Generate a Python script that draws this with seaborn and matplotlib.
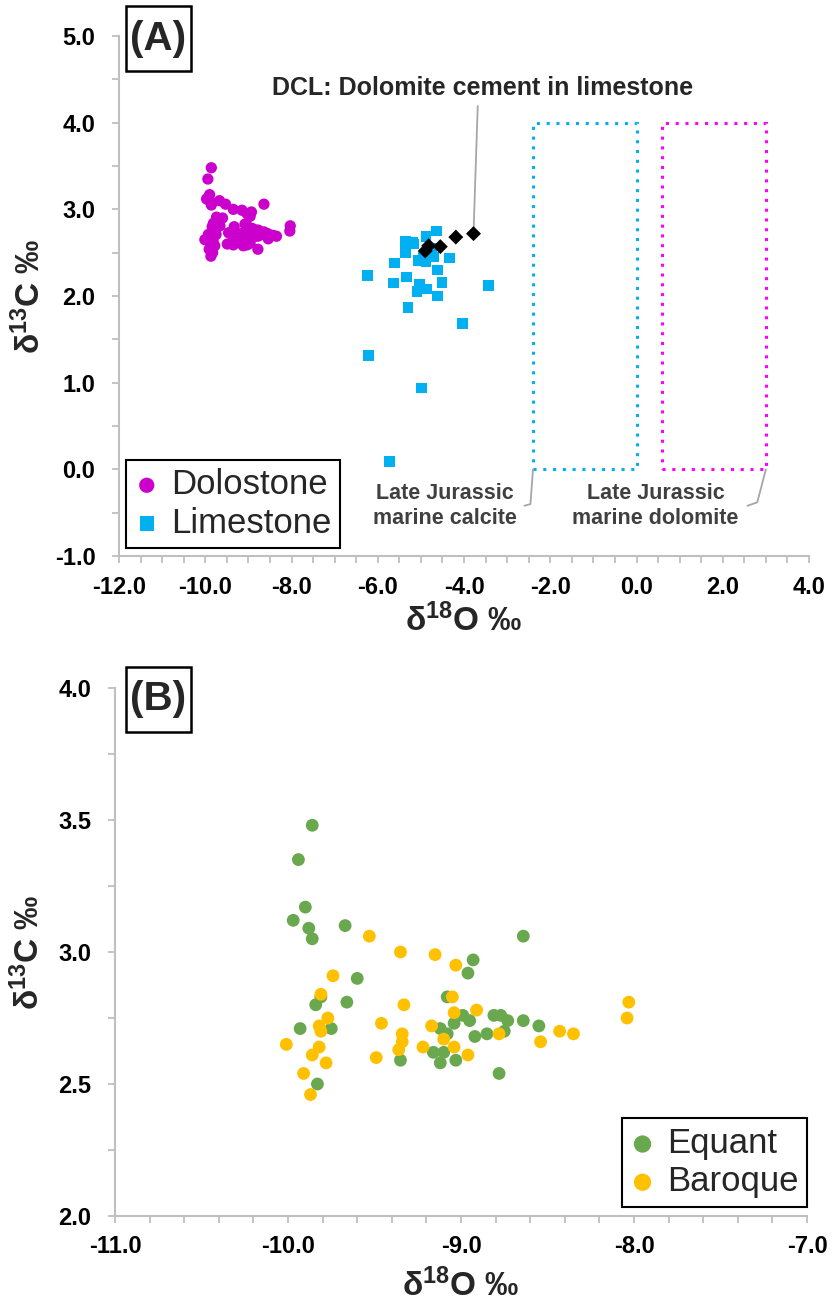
import matplotlib
matplotlib.use("Agg")
import matplotlib.pyplot as plt
from matplotlib.patches import Rectangle
from matplotlib.ticker import MultipleLocator, FormatStrFormatter
import pandas as pd
import seaborn as sns

# ---- Dolomite cement types (delta18O, delta13C, permil VPDB) ----
equant_d18o = [-9.86, -9.94, -9.90, -9.97, -9.88, -9.86, -9.67, -8.93, -8.96, -9.60,
               -9.84, -9.81, -9.66, -9.08, -9.93, -9.75, -8.99, -8.95, -9.04, -9.12,
               -9.08, -8.92, -8.85, -8.81, -9.16, -9.10, -9.12, -9.03, -9.35, -9.83,
               -8.78, -8.64, -8.77, -8.73, -8.64, -8.55, -8.75]
equant_d13c = [3.48, 3.35, 3.17, 3.12, 3.09, 3.05, 3.10, 2.97, 2.92, 2.90,
               2.80, 2.83, 2.81, 2.83, 2.71, 2.71, 2.76, 2.74, 2.73, 2.71,
               2.69, 2.68, 2.69, 2.76, 2.62, 2.62, 2.58, 2.59, 2.59, 2.50,
               2.54, 3.06, 2.76, 2.74, 2.74, 2.72, 2.70]

baroque_d18o = [-9.53, -9.35, -9.15, -9.03, -9.74, -9.81, -9.33, -9.05, -9.04, -8.91,
                -9.77, -9.82, -9.81, -9.46, -9.17, -10.01, -9.82, -9.86, -9.78, -9.34,
                -9.34, -9.36, -9.22, -9.10, -9.04, -8.96, -9.49, -9.91, -9.87, -8.78,
                -8.03, -8.04, -8.43, -8.35, -8.54]
baroque_d13c = [3.06, 3.00, 2.99, 2.95, 2.91, 2.84, 2.80, 2.83, 2.77, 2.78,
                2.75, 2.72, 2.70, 2.73, 2.72, 2.65, 2.64, 2.61, 2.58, 2.69,
                2.66, 2.63, 2.64, 2.67, 2.64, 2.61, 2.60, 2.54, 2.46, 2.69,
                2.81, 2.75, 2.70, 2.69, 2.66]

# ---- Limestone host and dolomite cement in limestone (DCL) ----
lime_d18o = [-4.64, -5.35, -5.20, -4.88, -5.36, -5.05, -4.88, -4.71, -4.34, -5.62,
             -4.61, -6.23, -5.33, -5.64, -5.04, -4.51, -4.86, -5.09, -4.61, -3.43,
             -5.30, -4.04, -6.21, -4.98, -5.73, -5.18, -4.95, -4.75]
lime_d13c = [2.75, 2.63, 2.62, 2.69, 2.50, 2.41, 2.40, 2.45, 2.44, 2.38,
             2.30, 2.24, 2.22, 2.15, 2.14, 2.16, 2.08, 2.05, 2.00, 2.12,
             1.87, 1.68, 1.31, 0.94, 0.09, 2.60, 2.45, 2.55]

dcl_d18o = [-4.90, -4.82, -4.55, -4.19, -3.78]
dcl_d13c = [2.52, 2.58, 2.57, 2.68, 2.72]

# ---- Late Jurassic marine reference fields (d18O range, d13C range) ----
calcite_d18o = (-2.4, 0.0)
calcite_d13c = (0.0, 4.0)
dolomite_d18o = (0.6, 3.0)
dolomite_d13c = (0.0, 4.0)

dolostone = pd.DataFrame({"d18O": equant_d18o + baroque_d18o,
                          "d13C": equant_d13c + baroque_d13c})

MAGENTA = "#cc00cc"
BLUE = "#00b0f0"
GREEN = "#6aa84f"
ORANGE = "#ffc000"
GRID_GREY = "#bfbfbf"
LEADER = "#a6a6a6"

sns.set_style("ticks")
plt.rcParams["font.family"] = ["Liberation Sans", "DejaVu Sans"]
plt.rcParams["font.weight"] = "bold"
plt.rcParams["axes.unicode_minus"] = False
plt.rcParams["mathtext.fontset"] = "custom"
plt.rcParams["mathtext.rm"] = "Liberation Sans:bold"
plt.rcParams["mathtext.it"] = "Liberation Sans:bold"
plt.rcParams["mathtext.bf"] = "Liberation Sans:bold"

fig = plt.figure(figsize=(8.33, 13.05), dpi=100)
axA = fig.add_axes([0.1429, 0.5739, 0.8283, 0.3985])
axB = fig.add_axes([0.1381, 0.0682, 0.8307, 0.4046])

XLAB = "δ$^{18}$O ‰"
YLAB = "δ$^{13}$C ‰"


def style_axes(ax):
    sns.despine(ax=ax)
    for side in ("left", "bottom"):
        ax.spines[side].set_color(GRID_GREY)
        ax.spines[side].set_linewidth(1.5)
    ax.tick_params(which="both", direction="out", length=5, width=1.3,
                   color=GRID_GREY, labelsize=17, labelcolor="black")
    ax.tick_params(axis="y", which="both", pad=12)
    ax.tick_params(axis="x", which="both", pad=9)
    ax.xaxis.set_major_formatter(FormatStrFormatter("%.1f"))
    ax.yaxis.set_major_formatter(FormatStrFormatter("%.1f"))
    ax.set_xlabel(XLAB, fontsize=24, fontweight="bold")
    ax.set_ylabel(YLAB, fontsize=24, fontweight="bold")


def framed_legend(ax, **kw):
    leg = ax.legend(prop={"size": 25, "weight": "normal"}, frameon=True,
                    fancybox=False, framealpha=1, borderpad=0.25,
                    labelspacing=0.15, handlelength=0.7, handletextpad=0.35,
                    borderaxespad=0, markerscale=1.35, **kw)
    leg.get_frame().set_edgecolor("black")
    leg.get_frame().set_linewidth(1.5)
    return leg


def panel_tag(ax, tag, x0, y0, w, h):
    ax.add_patch(Rectangle((x0, y0), w, h, transform=ax.transAxes,
                           fill=True, fc="white", ec="black", lw=1.8,
                           clip_on=False, zorder=6))
    ax.text(x0 + w / 2, y0 + h / 2, tag, transform=ax.transAxes,
            ha="center", va="center", fontsize=29, fontweight="bold",
            zorder=7)


# ================= Panel A =================
for (x0, x1), (y0, y1), col in ((calcite_d18o, calcite_d13c, BLUE),
                                (dolomite_d18o, dolomite_d13c, "#ff00ff")):
    axA.add_patch(Rectangle((x0, y0), x1 - x0, y1 - y0, fill=False,
                            edgecolor=col, lw=2.2, linestyle=(0, (1, 2.2)),
                            zorder=1))

sns.scatterplot(data=dolostone, x="d18O", y="d13C", ax=axA, color=MAGENTA,
                marker="o", s=66, edgecolor="none", label="Dolostone", zorder=3)
sns.scatterplot(x=lime_d18o, y=lime_d13c, ax=axA, color=BLUE, marker="s",
                s=60, edgecolor="none", label="Limestone", zorder=3)
sns.scatterplot(x=dcl_d18o, y=dcl_d13c, ax=axA, color="black", marker="D",
                s=58, edgecolor="none", label="_nolegend_", zorder=4)

axA.set_xlim(-12, 4)
axA.set_ylim(-1, 5)
axA.xaxis.set_major_locator(MultipleLocator(2.0))
axA.xaxis.set_minor_locator(MultipleLocator(0.5))
axA.yaxis.set_major_locator(MultipleLocator(1.0))
axA.yaxis.set_minor_locator(MultipleLocator(0.5))
style_axes(axA)
axA.xaxis.set_label_coords(0.5, -0.092)
axA.yaxis.set_label_coords(-0.104, 0.5)

axA.annotate("DCL: Dolomite cement in limestone",
             xy=(dcl_d18o[-1], dcl_d13c[-1]), xytext=(-3.58, 4.40),
             ha="center", va="center", fontsize=18, fontweight="bold",
             arrowprops=dict(arrowstyle="-", color=LEADER, lw=1.3,
                             shrinkA=2, shrinkB=0, relpos=(0.49, 0.0)))

# Leader lines from the reference fields to their captions
axA.plot([calcite_d18o[0], calcite_d18o[0] - 0.06, calcite_d18o[0] - 0.2],
         [calcite_d13c[0], -0.40, -0.42], color=LEADER, lw=1.3, zorder=1)
axA.plot([dolomite_d18o[1], dolomite_d18o[1] - 0.2, dolomite_d18o[1] - 0.43],
         [dolomite_d13c[0], -0.38, -0.42], color=LEADER, lw=1.3, zorder=1)
axA.text(-4.44, -0.42, "Late Jurassic\nmarine calcite", ha="center",
         va="center", fontsize=15.5, fontweight="bold", color="#404040",
         linespacing=1.25)
axA.text(0.44, -0.42, "Late Jurassic\nmarine dolomite", ha="center",
         va="center", fontsize=15.5, fontweight="bold", color="#404040",
         linespacing=1.25)

framed_legend(axA, loc="lower left", bbox_to_anchor=(0.010, 0.015))
panel_tag(axA, "(A)", 0.0101, 0.9327, 0.0942, 0.125)

# ================= Panel B =================
sns.scatterplot(x=equant_d18o, y=equant_d13c, ax=axB, color=GREEN, marker="o",
                s=85, edgecolor="none", label="Equant", zorder=3)
sns.scatterplot(x=baroque_d18o, y=baroque_d13c, ax=axB, color=ORANGE,
                marker="o", s=85, edgecolor="none", label="Baroque", zorder=3)

axB.set_xlim(-11, -7)
axB.set_ylim(2, 4)
axB.xaxis.set_major_locator(MultipleLocator(1.0))
axB.xaxis.set_minor_locator(MultipleLocator(0.2))
axB.yaxis.set_major_locator(MultipleLocator(0.5))
axB.yaxis.set_minor_locator(MultipleLocator(0.25))
style_axes(axB)
axB.xaxis.set_label_coords(0.5, -0.100)
axB.yaxis.set_label_coords(-0.100, 0.5)

framed_legend(axB, loc="lower right", bbox_to_anchor=(1.0, 0.017))
panel_tag(axB, "(B)", 0.0159, 0.9167, 0.0939, 0.1231)

fig.savefig("out.png", dpi=100, facecolor="white")
